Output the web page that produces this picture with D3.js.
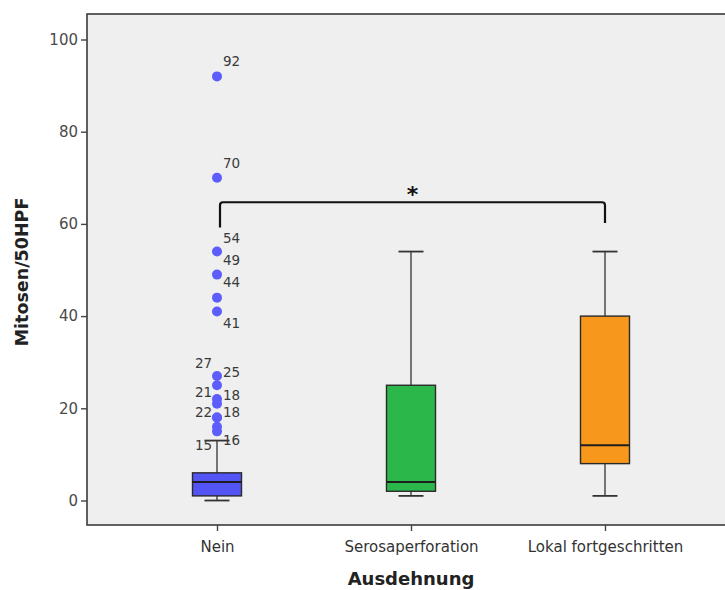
<!DOCTYPE html>
<html>
<head>
<meta charset="utf-8">
<script src="https://cdn.jsdelivr.net/npm/d3@7"></script>
<style>
  html, body { margin: 0; padding: 0; background: #ffffff; }
  svg { display: block; }
</style>
</head>
<body>
<svg id="chart" width="725" height="590"></svg>
<script>
// Mitosen/50HPF by Ausdehnung — box plot summaries
const categories = ["Nein", "Serosaperforation", "Lokal fortgeschritten"];
const whiskerLow  = [0, 1, 1];
const q1          = [1, 2, 8];
const median      = [4, 4, 12];
const q3          = [6, 25, 40];
const whiskerHigh = [13, 54, 54];
const boxColors   = ["#5454f4", "#2bb74a", "#f7981c"];

// Outliers of the "Nein" group (value and its printed label)
const outlierValues = [92, 70, 54, 49, 44, 41, 27, 25, 22, 21, 18, 18, 16, 15];
const outlierLabels = ["92", "70", "54", "49", "44", "41", "27", "25", "22", "21", "18", "18", "16", "15"];

// Significance bracket between "Nein" and "Lokal fortgeschritten"
const bracketPair = ["Nein", "Lokal fortgeschritten"];
const bracketLevel = 64.7;
const bracketEnds = [59.2, 60.2];
const bracketMark = "*";

const yTicks = [0, 20, 40, 60, 80, 100];

// ---- layout ----
const plot = { left: 87, top: 14, right: 730, bottom: 525 };
const FONT = "DejaVu Sans, sans-serif";

const svg = d3.select("#chart");

const y = d3.scaleLinear().domain([0, 100]).range([500.5, 39.5]);
const x = d3.scalePoint().domain(categories).range([217, 605]);

// plot background
svg.append("rect")
  .attr("x", plot.left).attr("y", plot.top)
  .attr("width", plot.right - plot.left).attr("height", plot.bottom - plot.top)
  .attr("fill", "#efefef")
  .attr("stroke", "#3a3a3a").attr("stroke-width", 1.6);

// y axis
const yAxis = d3.axisLeft(y).tickValues(yTicks).tickSize(6).tickPadding(3);
const gy = svg.append("g").attr("transform", `translate(${plot.left},0)`).call(yAxis);
gy.select(".domain").remove();
gy.selectAll(".tick line").attr("stroke", "#444").attr("stroke-width", 1.4);
gy.selectAll(".tick text")
  .attr("fill", "#4a4a4a").style("font-family", FONT).style("font-size", "15px");

// x axis
const xAxis = d3.axisBottom(x).tickSize(6).tickPadding(10);
const gx = svg.append("g").attr("transform", `translate(0,${plot.bottom})`).call(xAxis);
gx.select(".domain").remove();
gx.selectAll(".tick line").attr("stroke", "#444").attr("stroke-width", 1.4);
gx.selectAll(".tick text")
  .attr("fill", "#333").style("font-family", FONT).style("font-size", "15px");

// axis titles
svg.append("text")
  .attr("transform", `translate(28,${(y(0) + y(100)) / 2 + 2}) rotate(-90)`)
  .attr("text-anchor", "middle")
  .style("font-family", FONT).style("font-size", "17.5px").style("font-weight", "bold")
  .attr("fill", "#222")
  .text("Mitosen/50HPF");

svg.append("text")
  .attr("x", x("Serosaperforation")).attr("y", 585)
  .attr("text-anchor", "middle")
  .style("font-family", FONT).style("font-size", "18px").style("font-weight", "bold")
  .attr("fill", "#222")
  .text("Ausdehnung");

// boxes
const boxW = 49, capW = 25;
const boxes = categories.map((c, i) => ({
  c, lo: whiskerLow[i], q1: q1[i], med: median[i], q3: q3[i], hi: whiskerHigh[i], color: boxColors[i]
}));

const g = svg.append("g");
boxes.forEach(b => {
  const cx = x(b.c);
  // whisker stems
  g.append("line").attr("x1", cx).attr("x2", cx).attr("y1", y(b.hi)).attr("y2", y(b.q3))
    .attr("stroke", "#555").attr("stroke-width", 1.6);
  g.append("line").attr("x1", cx).attr("x2", cx).attr("y1", y(b.q1)).attr("y2", y(b.lo))
    .attr("stroke", "#555").attr("stroke-width", 1.6);
  // caps
  [b.hi, b.lo].forEach(v => {
    g.append("line").attr("x1", cx - capW / 2).attr("x2", cx + capW / 2).attr("y1", y(v)).attr("y2", y(v))
      .attr("stroke", "#333").attr("stroke-width", 1.8);
  });
  // box
  g.append("rect")
    .attr("x", cx - boxW / 2).attr("y", y(b.q3))
    .attr("width", boxW).attr("height", y(b.q1) - y(b.q3))
    .attr("fill", b.color).attr("stroke", "#2a2a2a").attr("stroke-width", 1.4);
  // median
  g.append("line").attr("x1", cx - boxW / 2).attr("x2", cx + boxW / 2).attr("y1", y(b.med)).attr("y2", y(b.med))
    .attr("stroke", "#1e1e1e").attr("stroke-width", 2);
});

// outliers of the first group
const ox = x(categories[0]);
g.selectAll("circle.out").data(outlierValues).join("circle")
  .attr("class", "out")
  .attr("cx", ox).attr("cy", d => y(d)).attr("r", 5)
  .attr("fill", "#5d5dfc");

// label offsets [dx, dy] from each outlier point, keeping the crowded labels apart
const labelOffsets = [
  [6, -10], [6, -10], [6, -9], [6, -10], [6, -11], [6, 17],
  [-22, -8], [6, -8], [-22, 18], [-22, -7], [6, -18], [6, -1], [6, 18], [-22, 19]
];
g.selectAll("text.olab").data(outlierValues).join("text")
  .attr("class", "olab")
  .attr("x", (d, i) => ox + labelOffsets[i][0])
  .attr("y", (d, i) => y(d) + labelOffsets[i][1])
  .attr("fill", "#3a3a3a")
  .style("font-family", FONT).style("font-size", "13.5px")
  .text((d, i) => outlierLabels[i]);

// significance bracket
const bx1 = x(bracketPair[0]) + 3, bx2 = x(bracketPair[1]);
const by = y(bracketLevel), r = 3;
const path = d3.path();
path.moveTo(bx1, y(bracketEnds[0]));
path.lineTo(bx1, by + r);
path.quadraticCurveTo(bx1, by, bx1 + r, by);
path.lineTo(bx2 - r, by);
path.quadraticCurveTo(bx2, by, bx2, by + r);
path.lineTo(bx2, y(bracketEnds[1]));
svg.append("path").attr("d", path.toString())
  .attr("fill", "none").attr("stroke", "#111").attr("stroke-width", 2.2);

svg.append("text")
  .attr("x", (bx1 + bx2) / 2).attr("y", by)
  .attr("text-anchor", "middle")
  .style("font-family", FONT).style("font-size", "22px").style("font-weight", "bold")
  .attr("fill", "#111")
  .text(bracketMark);
</script>
</body>
</html>
